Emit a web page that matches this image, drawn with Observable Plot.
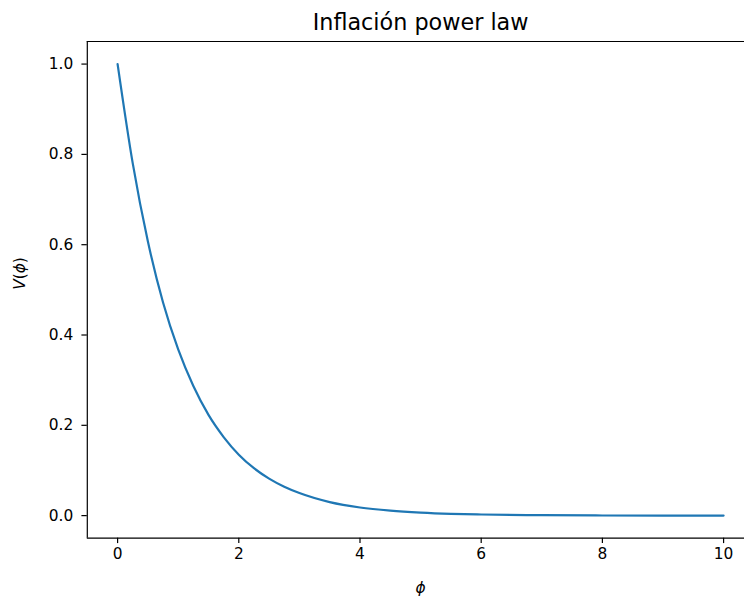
<!DOCTYPE html>
<html><head><meta charset="utf-8">
<script src="https://cdn.jsdelivr.net/npm/d3@7"></script>
<script src="https://cdn.jsdelivr.net/npm/@observablehq/plot@0.6"></script>
<style>body{margin:0;background:#fff}svg{display:block}</style>
</head><body><div id="chart"></div>
<script>
const titleText = "Inflación power law";
const xLabel = "ϕ";
const yLabel = "V(ϕ)";
const phi = [0, 0.25, 0.5, 0.75, 1, 1.25, 1.5, 1.75, 2, 2.25, 2.5, 2.75, 3, 3.5, 4, 4.5, 5, 5.5, 6, 7, 8, 9, 10];
const V = [1.0, 0.78, 0.607, 0.472, 0.368, 0.287, 0.223, 0.174, 0.135, 0.105, 0.082, 0.064, 0.05, 0.03, 0.018, 0.011, 0.0067, 0.004, 0.0025, 0.0009, 0.0003, 0.0001, 0.00005];
const xTicks = [0, 2, 4, 6, 8, 10];
const yTicks = [0, 0.2, 0.4, 0.6, 0.8, 1.0];
const xDomain = [-0.5, 10.345];
const yDomain = [-0.05, 1.05];
const titleX = 5;

const data = phi.map((p, i) => ({phi: p, V: V[i]}));
const spine = {stroke: "#000", strokeWidth: 1.2};

const chart = Plot.plot({
  width: 744, height: 601,
  marginLeft: 86.8, marginRight: 0, marginTop: 41, marginBottom: 63.3,
  x: {domain: xDomain},
  y: {domain: yDomain},
  style: {fontFamily: "DejaVu Sans", fontSize: "15.4px", color: "#000", background: "#fff"},
  marks: [
    Plot.axisX(xTicks, {tickSize: 5.4, tickPadding: 4.6, fontSize: 15.4, label: null, strokeWidth: 1.2}),
    Plot.axisY(yTicks, {tickSize: 5.4, tickPadding: 8.6, fontSize: 15.4, tickFormat: d3.format(".1f"), label: null, strokeWidth: 1.2}),
    Plot.ruleX([xDomain[0]], spine),
    Plot.ruleY(yDomain, spine),
    Plot.line(data, {x: "phi", y: "V", stroke: "#1f77b4", strokeWidth: 2.2, curve: "monotone-x"}),
    Plot.text([titleText], {x: () => titleX, frameAnchor: "top", lineAnchor: "bottom", dy: -11.7, fontSize: 22.3, fill: "#000"}),
    Plot.text([xLabel], {frameAnchor: "bottom", x: () => titleX, lineAnchor: "middle", dy: 49.5, fontSize: 15.4, fill: "#000"}),
    Plot.text([yLabel], {frameAnchor: "left", rotate: -90, lineAnchor: "middle", dx: -67.5, fontSize: 15.4, fill: "#000"})
  ]
});
document.getElementById("chart").appendChild(chart);

// math-style italics for V and ϕ (like matplotlib mathtext)
d3.select(chart).selectAll("text").each(function() {
  const t = this.textContent;
  if (t === yLabel || t === xLabel) {
    const sel = d3.select(this);
    const target = this.querySelector("tspan") ? d3.select(this.querySelector("tspan")) : sel;
    target.text(null);
    for (const ch of t) {
      target.append("tspan").attr("font-style", (ch === "V" || ch === "ϕ") ? "italic" : "normal").text(ch);
    }
  }
});
</script>
</body></html>
